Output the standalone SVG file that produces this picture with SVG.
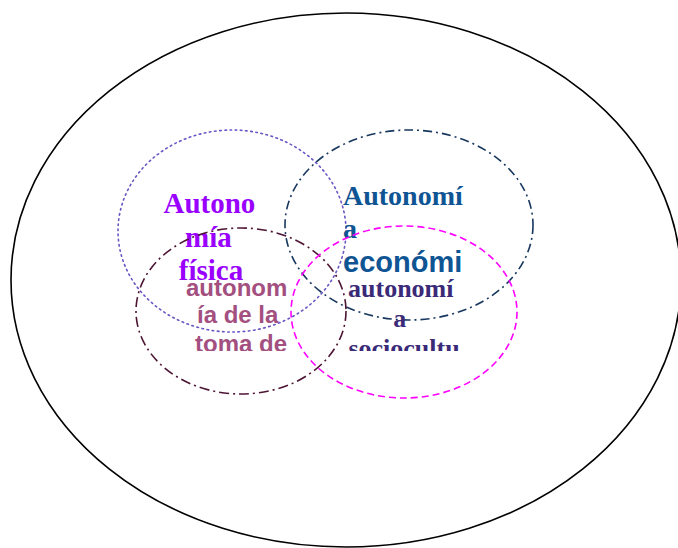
<svg xmlns="http://www.w3.org/2000/svg" width="678" height="548" viewBox="0 0 678 548">
  <style>
    .ring { fill: none; stroke-width: 1.6; }
    .serif { font-family: "Liberation Serif", "Times New Roman", serif; font-weight: bold; }
    .sans { font-family: "Liberation Sans", Arial, sans-serif; font-weight: bold; }
  </style>
  <defs>
    <clipPath id="clip-lower">
      <rect x="0" y="0" width="678" height="351"/>
    </clipPath>
  </defs>
  <rect width="678" height="548" fill="#ffffff"/>

  <!-- outer boundary -->
  <g id="outer">
    <ellipse class="ring" cx="346" cy="280" rx="335" ry="267" stroke="#000000"/>
  </g>

  <!-- physical autonomy -->
  <g id="fisica">
    <ellipse class="ring" cx="232" cy="231" rx="114" ry="101" stroke="#6a55c4" stroke-dasharray="1.6 3.6" stroke-linecap="round"/>
    <text class="serif" font-size="29" fill="#9900ff" text-anchor="middle">
      <tspan x="213" y="213">Autono</tspan>
      <tspan x="212" y="247">mía</tspan>
      <tspan x="211" y="280">física</tspan>
    </text>
  </g>

  <!-- economic autonomy -->
  <g id="economica">
    <ellipse class="ring" cx="409" cy="225" rx="124" ry="95" stroke="#17375e" stroke-dasharray="9 4 2 4"/>
    <text class="serif" font-size="28" fill="#0f5594" x="343" y="205">Autonomí</text>
    <text class="serif" font-size="28" fill="#0f5594" x="343" y="238">a</text>
    <text class="sans" font-size="29" fill="#0f5594" x="343" y="272">económi</text>
  </g>

  <!-- decision-making autonomy -->
  <g id="decisiones">
    <ellipse class="ring" cx="241" cy="311" rx="105" ry="83" stroke="#4d1434" stroke-dasharray="10 4 2 4"/>
    <text class="sans" font-size="24" fill="#a34f7f" text-anchor="middle" clip-path="url(#clip-lower)">
      <tspan x="240" y="296">autonom</tspan>
      <tspan x="241" y="323">ía de la</tspan>
      <tspan x="241" y="352">toma de</tspan>
    </text>
  </g>

  <!-- sociocultural autonomy -->
  <g id="sociocultural">
    <ellipse class="ring" cx="404" cy="312" rx="113" ry="86" stroke="#ff00ff" stroke-dasharray="7 4"/>
    <text class="serif" font-size="26" fill="#3b2a78" text-anchor="middle" clip-path="url(#clip-lower)">
      <tspan x="404" y="297">autonomí</tspan>
      <tspan x="403" y="327">a</tspan>
      <tspan x="404" y="357">sociocultu</tspan>
    </text>
  </g>
</svg>
